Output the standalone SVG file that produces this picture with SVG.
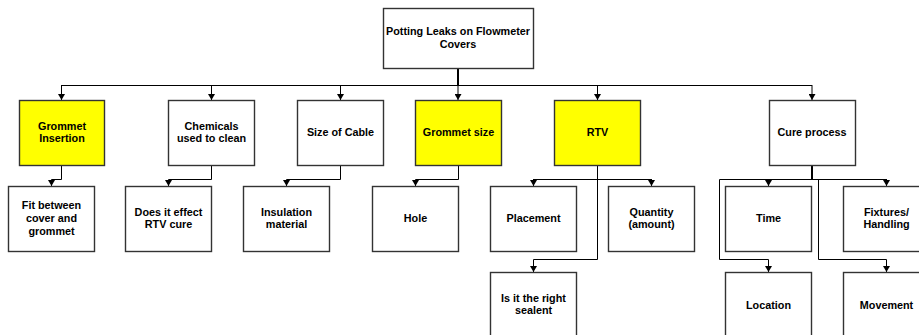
<svg xmlns="http://www.w3.org/2000/svg" width="919" height="335" viewBox="0 0 919 335">
  <style>
    .box { fill: #ffffff; stroke: #333333; stroke-width: 1.4; }
    .hl { fill: #ffff00; }
    .lbl { font-family: "Liberation Sans", Arial, sans-serif; font-size: 10.8px; font-weight: bold; fill: #000000; text-anchor: middle; }
    .ln { fill: none; stroke: #000000; stroke-width: 1; }
    .trunk { fill: none; stroke: #000000; stroke-width: 2; }
    .arr { fill: none; stroke: #000000; stroke-width: 1; marker-end: url(#tip); }
  </style>
  <defs>
    <marker id="tip" markerUnits="userSpaceOnUse" markerWidth="7" markerHeight="7" refX="6" refY="3.5" orient="auto">
      <path d="M0,0 L6,3.5 L0,7 z" fill="#000000"/>
    </marker>
  </defs>
  <rect width="919" height="335" fill="#ffffff"/>

  <g id="connectors">
    <!-- root to first level -->
    <path class="trunk" d="M458,68 V86"/>
    <path class="ln" d="M61.5,85.5 H812"/>
    <path class="arr" d="M61.5,85 V100"/>
    <path class="arr" d="M211.5,85 V100"/>
    <path class="arr" d="M340.5,85 V100"/>
    <path class="arr" d="M458,85 V100"/>
    <path class="arr" d="M597.5,85 V100"/>
    <path class="arr" d="M812,85 V100"/>
    <!-- first level to second level -->
    <path class="arr" d="M61.5,165 V179.5 H51.5 V186"/>
    <path class="arr" d="M211.5,165 V179.5 H168.5 V186"/>
    <path class="arr" d="M340.5,165 V179.5 H286.5 V186"/>
    <path class="arr" d="M458.5,165 V179.5 H415.5 V186"/>
    <!-- RTV branches -->
    <path class="ln" d="M597.5,165 V259.5"/>
    <path class="ln" d="M533.5,179.5 H651.5"/>
    <path class="arr" d="M533.5,179 V186"/>
    <path class="arr" d="M651.5,179 V186"/>
    <path class="arr" d="M597.5,259.5 H533.5 V272"/>
    <!-- Cure process branches -->
    <path class="trunk" d="M812,165 V180"/>
    <path class="ln" d="M719.5,179.5 H886.5"/>
    <path class="arr" d="M768.5,179 V186"/>
    <path class="arr" d="M886.5,179 V186"/>
    <path class="arr" d="M719.5,179.5 V259.5 H768.5 V272"/>
    <path class="arr" d="M818.5,179.5 V259.5 H886.5 V272"/>
  </g>

  <g id="root">
    <rect class="box" x="383.5" y="8.5" width="150" height="60"/>
    <text class="lbl" x="458" y="35">Potting Leaks on Flowmeter</text>
    <text class="lbl" x="458" y="47.5">Covers</text>
  </g>

  <g id="grommet-insertion">
    <rect class="box hl" x="19.5" y="100.5" width="85" height="65"/>
    <text class="lbl" x="62" y="129.5">Grommet</text>
    <text class="lbl" x="62" y="142">Insertion</text>
  </g>
  <g id="chemicals">
    <rect class="box" x="168.5" y="100.5" width="86" height="65"/>
    <text class="lbl" x="211.5" y="129.5">Chemicals</text>
    <text class="lbl" x="211.5" y="142">used to clean</text>
  </g>
  <g id="cable-size">
    <rect class="box" x="297.5" y="100.5" width="86" height="65"/>
    <text class="lbl" x="340.5" y="136">Size of Cable</text>
  </g>
  <g id="grommet-size">
    <rect class="box hl" x="415.5" y="100.5" width="86" height="65"/>
    <text class="lbl" x="458.5" y="136">Grommet size</text>
  </g>
  <g id="rtv">
    <rect class="box hl" x="554.5" y="100.5" width="86" height="65"/>
    <text class="lbl" x="597.5" y="136">RTV</text>
  </g>
  <g id="cure-process">
    <rect class="box" x="769.5" y="100.5" width="86" height="65"/>
    <text class="lbl" x="812" y="136">Cure process</text>
  </g>

  <g id="fit">
    <rect class="box" x="8.5" y="186.5" width="86" height="65"/>
    <text class="lbl" x="51.5" y="209">Fit between</text>
    <text class="lbl" x="51.5" y="222">cover and</text>
    <text class="lbl" x="51.5" y="235">grommet</text>
  </g>
  <g id="rtv-cure">
    <rect class="box" x="125.5" y="186.5" width="86" height="65"/>
    <text class="lbl" x="168.5" y="215.5">Does it effect</text>
    <text class="lbl" x="168.5" y="228">RTV cure</text>
  </g>
  <g id="insulation">
    <rect class="box" x="243.5" y="186.5" width="86" height="65"/>
    <text class="lbl" x="286.5" y="215.5">Insulation</text>
    <text class="lbl" x="286.5" y="228">material</text>
  </g>
  <g id="hole">
    <rect class="box" x="372.5" y="186.5" width="86" height="65"/>
    <text class="lbl" x="415.5" y="222">Hole</text>
  </g>
  <g id="placement">
    <rect class="box" x="490.5" y="186.5" width="86" height="65"/>
    <text class="lbl" x="533.5" y="222">Placement</text>
  </g>
  <g id="quantity">
    <rect class="box" x="608.5" y="186.5" width="86" height="65"/>
    <text class="lbl" x="651.5" y="215.5">Quantity</text>
    <text class="lbl" x="651.5" y="228">(amount)</text>
  </g>
  <g id="sealant">
    <rect class="box" x="490.5" y="272.5" width="86" height="65"/>
    <text class="lbl" x="533.5" y="301.5">Is it the right</text>
    <text class="lbl" x="533.5" y="314">sealent</text>
  </g>
  <g id="time">
    <rect class="box" x="725.5" y="186.5" width="86" height="65"/>
    <text class="lbl" x="768.5" y="222">Time</text>
  </g>
  <g id="fixtures">
    <rect class="box" x="843.5" y="186.5" width="86" height="65"/>
    <text class="lbl" x="886.5" y="215.5">Fixtures/</text>
    <text class="lbl" x="886.5" y="228">Handling</text>
  </g>
  <g id="location">
    <rect class="box" x="725.5" y="272.5" width="86" height="65"/>
    <text class="lbl" x="768.5" y="309">Location</text>
  </g>
  <g id="movement">
    <rect class="box" x="843.5" y="272.5" width="86" height="65"/>
    <text class="lbl" x="886.5" y="309">Movement</text>
  </g>
</svg>
